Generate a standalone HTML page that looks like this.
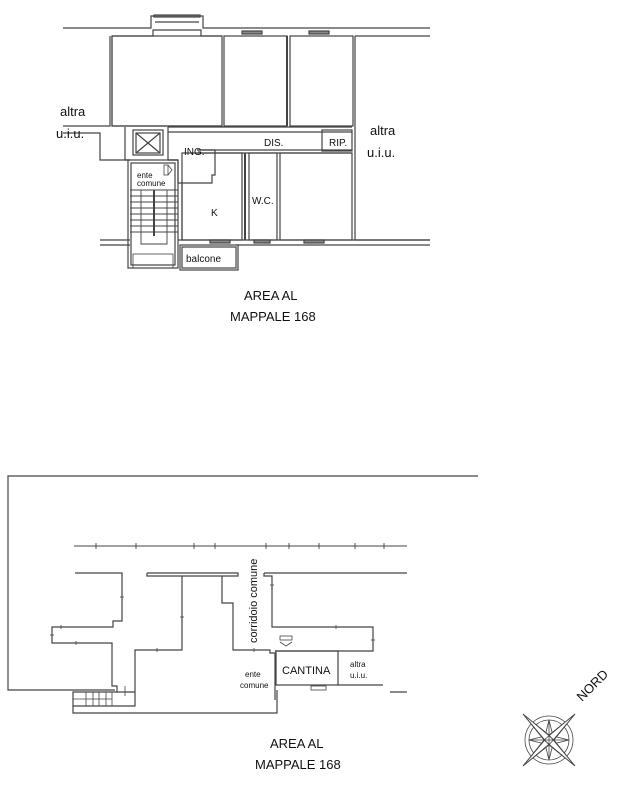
<!DOCTYPE html>
<html><head><meta charset="utf-8"><style>
html,body{margin:0;padding:0;background:#fff;}
svg{display:block;}
text{font-family:"Liberation Sans",sans-serif;fill:#111;}
</style></head><body>
<svg width="637" height="788" viewBox="0 0 637 788" xmlns="http://www.w3.org/2000/svg">
<g fill="none" stroke="#444" stroke-width="1.2">
<!-- TOP PLAN -->
<polyline points="63,28 151,28 151,16 203,16 203,28 430,28"/>
<polyline points="155,22 199,22"/>
<rect x="154" y="15" width="46" height="2" fill="#777"/>
<polyline points="112,36 153,36 153,30 201,30 201,36 222,36"/>
<polyline points="110,36 110,126 63,126"/>
<polyline points="112,36 112,126 222,126"/>
<polyline points="63,133 100,133 100,160 130,160"/>
<rect x="112" y="36" width="110" height="90"/>
<rect x="224" y="36" width="63" height="90"/>
<rect x="290" y="36" width="63" height="90"/>
<rect x="242" y="31" width="20" height="3" fill="#888"/>
<rect x="309" y="31" width="20" height="3" fill="#888"/>
<line x1="287" y1="36" x2="287" y2="126" stroke-width="2"/>
<polyline points="355,36 355,240 430,240"/>
<polyline points="355,36 430,36"/>
<polyline points="168,127 168,132 352,132"/>
<polyline points="168,127 352,127"/>
<polyline points="197,150 352,150"/>
<polyline points="197,153 352,153"/>
<rect x="322" y="130" width="30" height="21"/>
<line x1="322" y1="133" x2="322" y2="148" stroke-width="0.8"/>
<polyline points="168,132 168,160 178,160"/>
<polyline points="178,160 178,183 212,183 212,175 215,175 215,150 197,150"/>
<polyline points="182,240 182,183"/>
<rect x="182" y="153" width="60" height="87"/>
<rect x="249" y="153" width="28" height="87"/>
<rect x="280" y="153" width="72" height="87"/>
<line x1="245" y1="153" x2="245" y2="240" stroke-width="2"/>
<polyline points="100,240 130,240"/>
<polyline points="100,245 130,245"/>
<polyline points="178,240 430,240"/>
<polyline points="236,245 430,245"/>
<rect x="210" y="240" width="20" height="3" fill="#888"/>
<rect x="254" y="240" width="16" height="3" fill="#888"/>
<rect x="304" y="240" width="20" height="3" fill="#888"/>
<rect x="182" y="247" width="54" height="21"/>
<rect x="180" y="245" width="58" height="25"/>
<rect x="133" y="130" width="30" height="25"/>
<rect x="136" y="133" width="24" height="20"/>
<line x1="136" y1="133" x2="160" y2="153"/>
<line x1="160" y1="133" x2="136" y2="153"/>
<polyline points="125,127 125,160 130,160"/>
<polyline points="168,160 178,160"/>
<rect x="128" y="160" width="50" height="108"/>
<rect x="131" y="163" width="44" height="102"/>
<rect x="133" y="254" width="40" height="14" stroke-width="0.8"/>
<g stroke-width="0.9">
<line x1="130" y1="190" x2="178" y2="190"/>
<line x1="130" y1="196" x2="178" y2="196"/>
<line x1="130" y1="202" x2="178" y2="202"/>
<line x1="130" y1="208" x2="178" y2="208"/>
<line x1="130" y1="214" x2="178" y2="214"/>
<line x1="130" y1="220" x2="178" y2="220"/>
<line x1="130" y1="226" x2="178" y2="226"/>
<line x1="130" y1="232" x2="178" y2="232"/>
<polyline points="141,190 141,244 167,244 167,190"/>
</g>
<line x1="154" y1="190" x2="154" y2="236" stroke-width="2"/>
<rect x="164" y="165" width="4" height="10" stroke-width="0.8"/>
<polyline points="168,165 172,170 168,175" stroke-width="0.8"/>

<!-- BOTTOM PLAN -->
<polyline points="478,476 8,476 8,690 115,690"/>
<line x1="74" y1="546" x2="407" y2="546" stroke-width="0.9"/>
<g stroke-width="0.9">
<line x1="96" y1="543" x2="96" y2="549"/><line x1="136" y1="543" x2="136" y2="549"/>
<line x1="194" y1="543" x2="194" y2="549"/><line x1="215" y1="543" x2="215" y2="549"/>
<line x1="266" y1="543" x2="266" y2="549"/><line x1="289" y1="543" x2="289" y2="549"/>
<line x1="319" y1="543" x2="319" y2="549"/><line x1="355" y1="543" x2="355" y2="549"/>
<line x1="384" y1="543" x2="384" y2="549"/>
</g>
<polyline points="75,573 122,573 122,621 113,621 113,627 52,627 52,643 112,643 112,686 117,686 117,692"/>
<polyline points="147,573 238,573 238,576 147,576 147,573"/>
<polyline points="182,576 182,650 135,650 135,706 73,706 73,692 135,692"/>
<polyline points="222,576 222,603 233,603 233,650 270,650 270,653 275,653 275,700"/>
<polyline points="264,573 407,573"/>
<polyline points="264,573 264,576 272,576 272,627 373,627 373,651 275,651"/>
<polyline points="277,690 277,713 73,713 73,706"/>
<rect x="276" y="651" width="62" height="34"/>
<rect x="311" y="686" width="15" height="4" stroke-width="0.8"/>
<polyline points="338,685 383,685"/>
<polyline points="390,692 407,692"/>
<g stroke-width="0.8">
<line x1="86" y1="692" x2="86" y2="706"/><line x1="93" y1="692" x2="93" y2="706"/>
<line x1="99" y1="692" x2="99" y2="706"/><line x1="106" y1="692" x2="106" y2="706"/>
<line x1="112" y1="692" x2="112" y2="706"/>
<line x1="73" y1="699" x2="112" y2="699"/>
<line x1="125" y1="686" x2="125" y2="696"/>
<line x1="120" y1="597" x2="124" y2="597"/>
<line x1="50" y1="635" x2="54" y2="635"/>
<line x1="61" y1="625" x2="61" y2="629"/>
<line x1="76" y1="641" x2="76" y2="645"/>
<line x1="180" y1="617" x2="184" y2="617"/>
<line x1="157" y1="648" x2="157" y2="652"/>
<line x1="254" y1="648" x2="254" y2="652"/>
<line x1="336" y1="625" x2="336" y2="629"/>
<line x1="371" y1="640" x2="375" y2="640"/>
<line x1="270" y1="585" x2="274" y2="585"/>
<rect x="280" y="636" width="12" height="4"/>
<polyline points="280,642 286,646 292,642"/>
</g>
<!-- compass -->
<g transform="translate(549,740)" stroke-width="0.8" fill="#fff">
<circle r="24"/><circle r="20"/>
<polygon points="0,-20 4,-4 20,0 4,4 0,20 -4,4 -20,0 -4,-4"/>
<polygon points="26,-26 5,0 -26,26 0,-5 26,-26"/>
<polygon points="26,26 0,5 -26,-26 5,0 26,26"/>
<polygon points="26,-26 0,5 -26,26 -5,0 26,-26" fill="none"/>
<polygon points="26,26 -5,0 -26,-26 0,-5 26,26" fill="none"/>
<line x1="0" y1="-20" x2="0" y2="20"/>
<line x1="-20" y1="0" x2="20" y2="0"/>
</g>
</g>
<g font-size="13">
<text x="60" y="116">altra</text>
<text x="56" y="138">u.i.u.</text>
<text x="370" y="135">altra</text>
<text x="367" y="157">u.i.u.</text>
<text x="244" y="300">AREA AL</text>
<text x="230" y="321">MAPPALE 168</text>
<text x="270" y="748">AREA AL</text>
<text x="255" y="769">MAPPALE 168</text>
</g>
<g font-size="10">
<text x="184" y="155">ING.</text>
<text x="264" y="146">DIS.</text>
<text x="329" y="146">RIP.</text>
<text x="211" y="216">K</text>
<text x="252" y="204">W.C.</text>
<text x="186" y="262">balcone</text>
<text x="282" y="674" font-size="11">CANTINA</text>
<text x="257" y="643" font-size="11" transform="rotate(-90 257 643)">corridoio comune</text>
</g>
<g font-size="8" fill="#333">
<text x="137" y="178">ente</text>
<text x="137" y="186">comune</text>
<text x="245" y="677">ente</text>
<text x="240" y="688">comune</text>
<text x="350" y="667">altra</text>
<text x="350" y="678">u.i.u.</text>
</g>
<text x="582" y="702" font-size="13" transform="rotate(-45 582 702)">NORD</text>
</svg>
</body></html>
